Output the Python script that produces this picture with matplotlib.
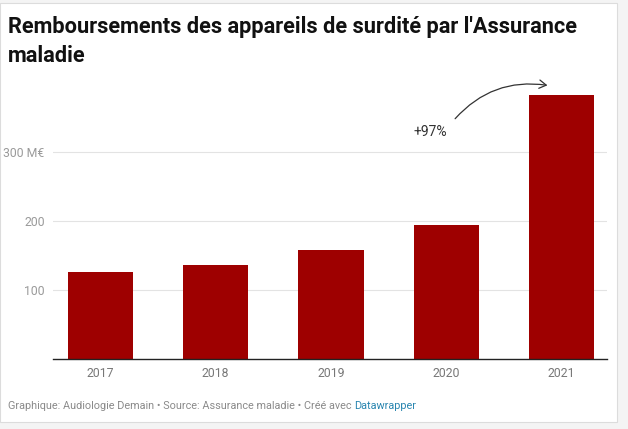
import matplotlib
matplotlib.use("Agg")
import matplotlib.pyplot as plt
from matplotlib.patches import FancyArrowPatch, Rectangle

years = ["2017", "2018", "2019", "2020", "2021"]
values = [126, 136, 158, 194, 384]
yticks = [100, 200, 300]
ytick_labels = ["100", "200", "300 M€"]

W, H = 628, 429
fig = plt.figure(figsize=(W / 100, H / 100), dpi=100)
fig.patch.set_facecolor("#f4f4f4")
# white card
card = Rectangle((0, 1 - 422 / H), 617 / W, (422 - 3) / H, transform=fig.transFigure,
                 facecolor="white", edgecolor="#dcdcdc", linewidth=0.8, zorder=-5)
fig.patches.append(card)

ax = fig.add_axes([53 / W, 1 - 358.5 / H, (606.7 - 53) / W, (358.5 - 80) / H])
ax.set_zorder(2)
ax.set_facecolor("none")
x = list(range(len(years)))
ax.bar(x, values, width=0.564, color="#9e0000", zorder=3)
ax.set_xlim(-0.41, 4.39)
ymax = (358.5 - 80) / 0.687
ax.set_ylim(0, ymax)
ax.set_yticks(yticks)
ax.set_yticklabels(ytick_labels)
ax.set_xticks(x)
ax.set_xticklabels(years)
for s in ["top", "right", "left"]:
    ax.spines[s].set_visible(False)
ax.spines["bottom"].set_color("#222222")
ax.spines["bottom"].set_linewidth(1.0)
ax.spines["bottom"].set_zorder(4)
ax.grid(axis="y", color="#e3e3e3", linewidth=0.8, zorder=0)
ax.set_axisbelow(True)
ax.tick_params(axis="y", length=0, pad=6, labelsize=8.8, labelcolor="#9a9a9a")
ax.tick_params(axis="x", length=0, pad=6, labelsize=8.8, labelcolor="#777777")
for lab in ax.get_xticklabels() + ax.get_yticklabels():
    lab.set_fontfamily("Roboto")

# annotation
ax.text(2.86, 330, "+97%", ha="center", va="center", fontsize=10, color="#333333",
        family="Roboto")
arr = FancyArrowPatch((3.06, 346), (3.9, 397), connectionstyle="arc3,rad=-0.28",
                      arrowstyle="->,head_length=5,head_width=3", color="#333333",
                      linewidth=0.9, mutation_scale=1, zorder=5, clip_on=False)
ax.add_patch(arr)

fig.text(8 / W, 1 - 33 / H, "Remboursements des appareils de surdité par l'Assurance",
         fontsize=15.7, fontweight="bold", family="Roboto", color="#111111",
         ha="left", va="baseline")
fig.text(8 / W, 1 - 62 / H, "maladie",
         fontsize=15.7, fontweight="bold", family="Roboto", color="#111111",
         ha="left", va="baseline")

foot = fig.text(8 / W, 1 - 409 / H,
                "Graphique: Audiologie Demain • Source: Assurance maladie • Créé avec ",
                fontsize=7.8, family="Roboto", color="#8a8a8a", ha="left", va="baseline")
fig.canvas.draw()
bb = foot.get_window_extent()
fig.text(bb.x1 / W, 1 - 409 / H, "Datawrapper", fontsize=7.8, family="Roboto",
         color="#2a86b0", ha="left", va="baseline")

fig.savefig("out.png", dpi=100, facecolor=fig.get_facecolor())
